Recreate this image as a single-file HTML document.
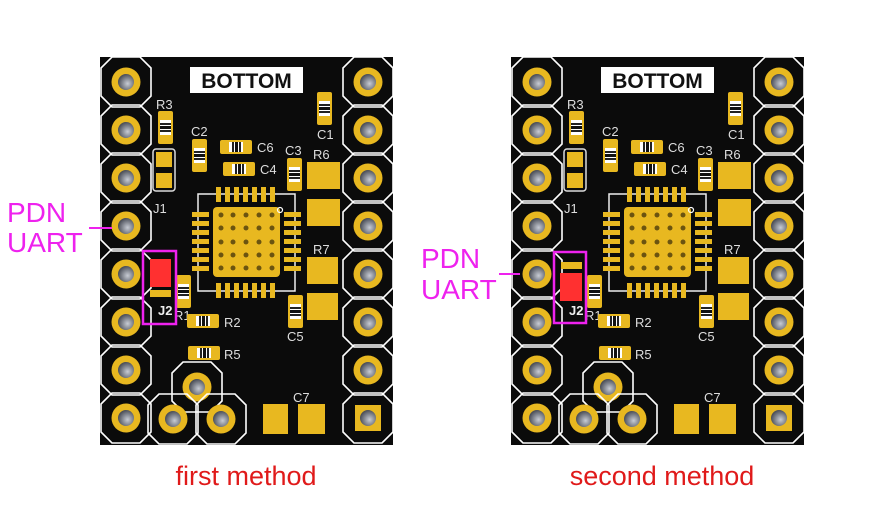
<!DOCTYPE html>
<html><head><meta charset="utf-8"><style>
html,body{margin:0;padding:0;background:#fff;}
svg{display:block;}
</style></head><body>
<svg width="869" height="516" viewBox="0 0 869 516" xmlns="http://www.w3.org/2000/svg" font-family="Liberation Sans, sans-serif">
<defs>
<radialGradient id="hole" cx="0.6" cy="0.6" r="0.6"><stop offset="0" stop-color="#c8ccd4"/><stop offset="1" stop-color="#4a4e58"/></radialGradient>
<g id="pad">
<polygon points="-14,-25 14,-25 25,-14 25,14 14,25 -14,25 -25,14 -25,-14" fill="none" stroke="#fff" stroke-width="1.6"/>
<circle r="14.5" fill="#e8b820"/>
<circle r="8" fill="url(#hole)"/>
</g>
<g id="vc">
<rect x="0" y="0" width="15" height="33" rx="2" fill="#e8b820"/>
<rect x="2" y="9" width="11" height="15" fill="#fff"/>
<rect x="2" y="12" width="11" height="2" fill="#222"/>
<rect x="2" y="15" width="11" height="3" fill="#111"/>
<rect x="2" y="19" width="11" height="2" fill="#222"/>
</g>
<g id="hc">
<rect x="0" y="0" width="32" height="14" rx="2" fill="#e8b820"/>
<rect x="9" y="2" width="14" height="10" fill="#fff"/>
<rect x="12" y="2" width="2" height="10" fill="#222"/>
<rect x="15" y="2" width="3" height="10" fill="#111"/>
<rect x="19" y="2" width="2" height="10" fill="#222"/>
</g>
<g id="board">
<rect x="0" y="0" width="293" height="388" fill="#0b0b0b"/>
<use href="#pad" x="26" y="25"/><use href="#pad" x="26" y="73"/><use href="#pad" x="26" y="121"/><use href="#pad" x="26" y="169"/>
<use href="#pad" x="26" y="217"/><use href="#pad" x="26" y="265"/><use href="#pad" x="26" y="313"/><use href="#pad" x="26" y="361"/>
<use href="#pad" x="268" y="25"/><use href="#pad" x="268" y="73"/><use href="#pad" x="268" y="121"/><use href="#pad" x="268" y="169"/>
<use href="#pad" x="268" y="217"/><use href="#pad" x="268" y="265"/><use href="#pad" x="268" y="313"/>
<polygon points="254,336 282,336 293,347 293,375 282,386 254,386 243,375 243,347" fill="none" stroke="#fff" stroke-width="1.6"/>
<rect x="255" y="348" width="26" height="26" fill="#e8b820"/><circle cx="268" cy="361" r="8" fill="url(#hole)"/>
<use href="#pad" x="97" y="330"/><use href="#pad" x="73" y="362"/><use href="#pad" x="121" y="362"/>
<rect x="90" y="10" width="113" height="26" fill="#fff"/>
<text x="146.5" y="31" font-size="21" font-weight="bold" text-anchor="middle" fill="#111">BOTTOM</text>
<g fill="#ddd" font-size="13">
<text x="56" y="52">R3</text><text x="53" y="156">J1</text><text x="91" y="79">C2</text>
<text x="157" y="95">C6</text><text x="160" y="117">C4</text><text x="217" y="82">C1</text>
<text x="185" y="98">C3</text><text x="213" y="102">R6</text><text x="213" y="197">R7</text>
<text x="187" y="284">C5</text><text x="74" y="263">R1</text><text x="124" y="270">R2</text>
<text x="124" y="302">R5</text><text x="193" y="345">C7</text>
</g>
<use href="#vc" x="58" y="54"/><use href="#vc" x="92" y="82"/><use href="#vc" x="217" y="35"/>
<use href="#vc" x="187" y="101"/><use href="#vc" x="188" y="238"/><use href="#vc" x="76" y="218"/>
<use href="#hc" x="120" y="83"/><use href="#hc" x="123" y="105"/><use href="#hc" x="87" y="257"/><use href="#hc" x="88" y="289"/>
<rect x="53" y="92" width="22" height="42" rx="3" fill="none" stroke="#ddd" stroke-width="1.5"/>
<rect x="56" y="95" width="16" height="15" fill="#e8b820"/><rect x="56" y="116" width="16" height="15" fill="#e8b820"/>
<rect x="207" y="105" width="33" height="27" fill="#e8b820"/><rect x="207" y="142" width="33" height="27" fill="#e8b820"/>
<rect x="207" y="200" width="31" height="27" fill="#e8b820"/><rect x="207" y="236" width="31" height="27" fill="#e8b820"/>
<rect x="163" y="347" width="25" height="30" fill="#e8b820"/><rect x="198" y="347" width="27" height="30" fill="#e8b820"/>
<rect x="98" y="137" width="97" height="97" fill="none" stroke="#eee" stroke-width="1.5"/>
<g fill="#e8b820">
<rect x="116" y="130" width="5" height="15"/><rect x="125" y="130" width="5" height="15"/><rect x="134" y="130" width="5" height="15"/><rect x="143" y="130" width="5" height="15"/><rect x="152" y="130" width="5" height="15"/><rect x="161" y="130" width="5" height="15"/><rect x="170" y="130" width="5" height="15"/>
<rect x="116" y="226" width="5" height="15"/><rect x="125" y="226" width="5" height="15"/><rect x="134" y="226" width="5" height="15"/><rect x="143" y="226" width="5" height="15"/><rect x="152" y="226" width="5" height="15"/><rect x="161" y="226" width="5" height="15"/><rect x="170" y="226" width="5" height="15"/>
<rect x="92" y="155" width="17" height="5"/><rect x="92" y="164" width="17" height="5"/><rect x="92" y="173" width="17" height="5"/><rect x="92" y="182" width="17" height="5"/><rect x="92" y="191" width="17" height="5"/><rect x="92" y="200" width="17" height="5"/><rect x="92" y="209" width="17" height="5"/>
<rect x="184" y="155" width="17" height="5"/><rect x="184" y="164" width="17" height="5"/><rect x="184" y="173" width="17" height="5"/><rect x="184" y="182" width="17" height="5"/><rect x="184" y="191" width="17" height="5"/><rect x="184" y="200" width="17" height="5"/><rect x="184" y="209" width="17" height="5"/>
<rect x="113" y="150" width="67" height="70" rx="4"/>
</g>
<g fill="#6b5410">
<circle cx="121" cy="158" r="2.5"/><circle cx="133" cy="158" r="2.5"/><circle cx="146" cy="158" r="2.5"/><circle cx="159" cy="158" r="2.5"/><circle cx="172" cy="158" r="2.5"/>
<circle cx="121" cy="171" r="2.5"/><circle cx="133" cy="171" r="2.5"/><circle cx="146" cy="171" r="2.5"/><circle cx="159" cy="171" r="2.5"/><circle cx="172" cy="171" r="2.5"/>
<circle cx="121" cy="185" r="2.5"/><circle cx="133" cy="185" r="2.5"/><circle cx="146" cy="185" r="2.5"/><circle cx="159" cy="185" r="2.5"/><circle cx="172" cy="185" r="2.5"/>
<circle cx="121" cy="198" r="2.5"/><circle cx="133" cy="198" r="2.5"/><circle cx="146" cy="198" r="2.5"/><circle cx="159" cy="198" r="2.5"/><circle cx="172" cy="198" r="2.5"/>
<circle cx="121" cy="211" r="2.5"/><circle cx="133" cy="211" r="2.5"/><circle cx="146" cy="211" r="2.5"/><circle cx="159" cy="211" r="2.5"/><circle cx="172" cy="211" r="2.5"/>
</g>
<circle cx="180" cy="153" r="2.5" fill="none" stroke="#fff" stroke-width="1.2"/>
<text x="58" y="258" font-size="13" font-weight="bold" fill="#eee">J2</text>
</g>
</defs>

<rect x="0" y="0" width="869" height="516" fill="#fff"/>

<use href="#board" x="100" y="57"/>
<rect x="150" y="259" width="21" height="28" fill="#ff3030"/>
<rect x="150" y="290" width="21" height="7" fill="#e8b820"/>
<rect x="143" y="251" width="33" height="73" fill="none" stroke="#ee22ee" stroke-width="2.5"/>
<line x1="89" y1="228" x2="112" y2="228" stroke="#ee22ee" stroke-width="2"/>
<text x="7" y="222" font-size="28" fill="#ee22ee">PDN</text>
<text x="7" y="252" font-size="28" fill="#ee22ee">UART</text>
<text x="246" y="485" font-size="27" fill="#e01a1a" text-anchor="middle">first method</text>

<use href="#board" x="511" y="57"/>
<rect x="561" y="262" width="21" height="7" fill="#e8b820"/>
<rect x="560" y="273" width="22" height="28" fill="#ff3030"/>
<rect x="554" y="252" width="32" height="71" fill="none" stroke="#ee22ee" stroke-width="2.5"/>
<line x1="499" y1="274" x2="520" y2="274" stroke="#ee22ee" stroke-width="2"/>
<text x="421" y="268" font-size="28" fill="#ee22ee">PDN</text>
<text x="421" y="299" font-size="28" fill="#ee22ee">UART</text>
<text x="662" y="485" font-size="27" fill="#e01a1a" text-anchor="middle">second method</text>
</svg>
</body></html>
